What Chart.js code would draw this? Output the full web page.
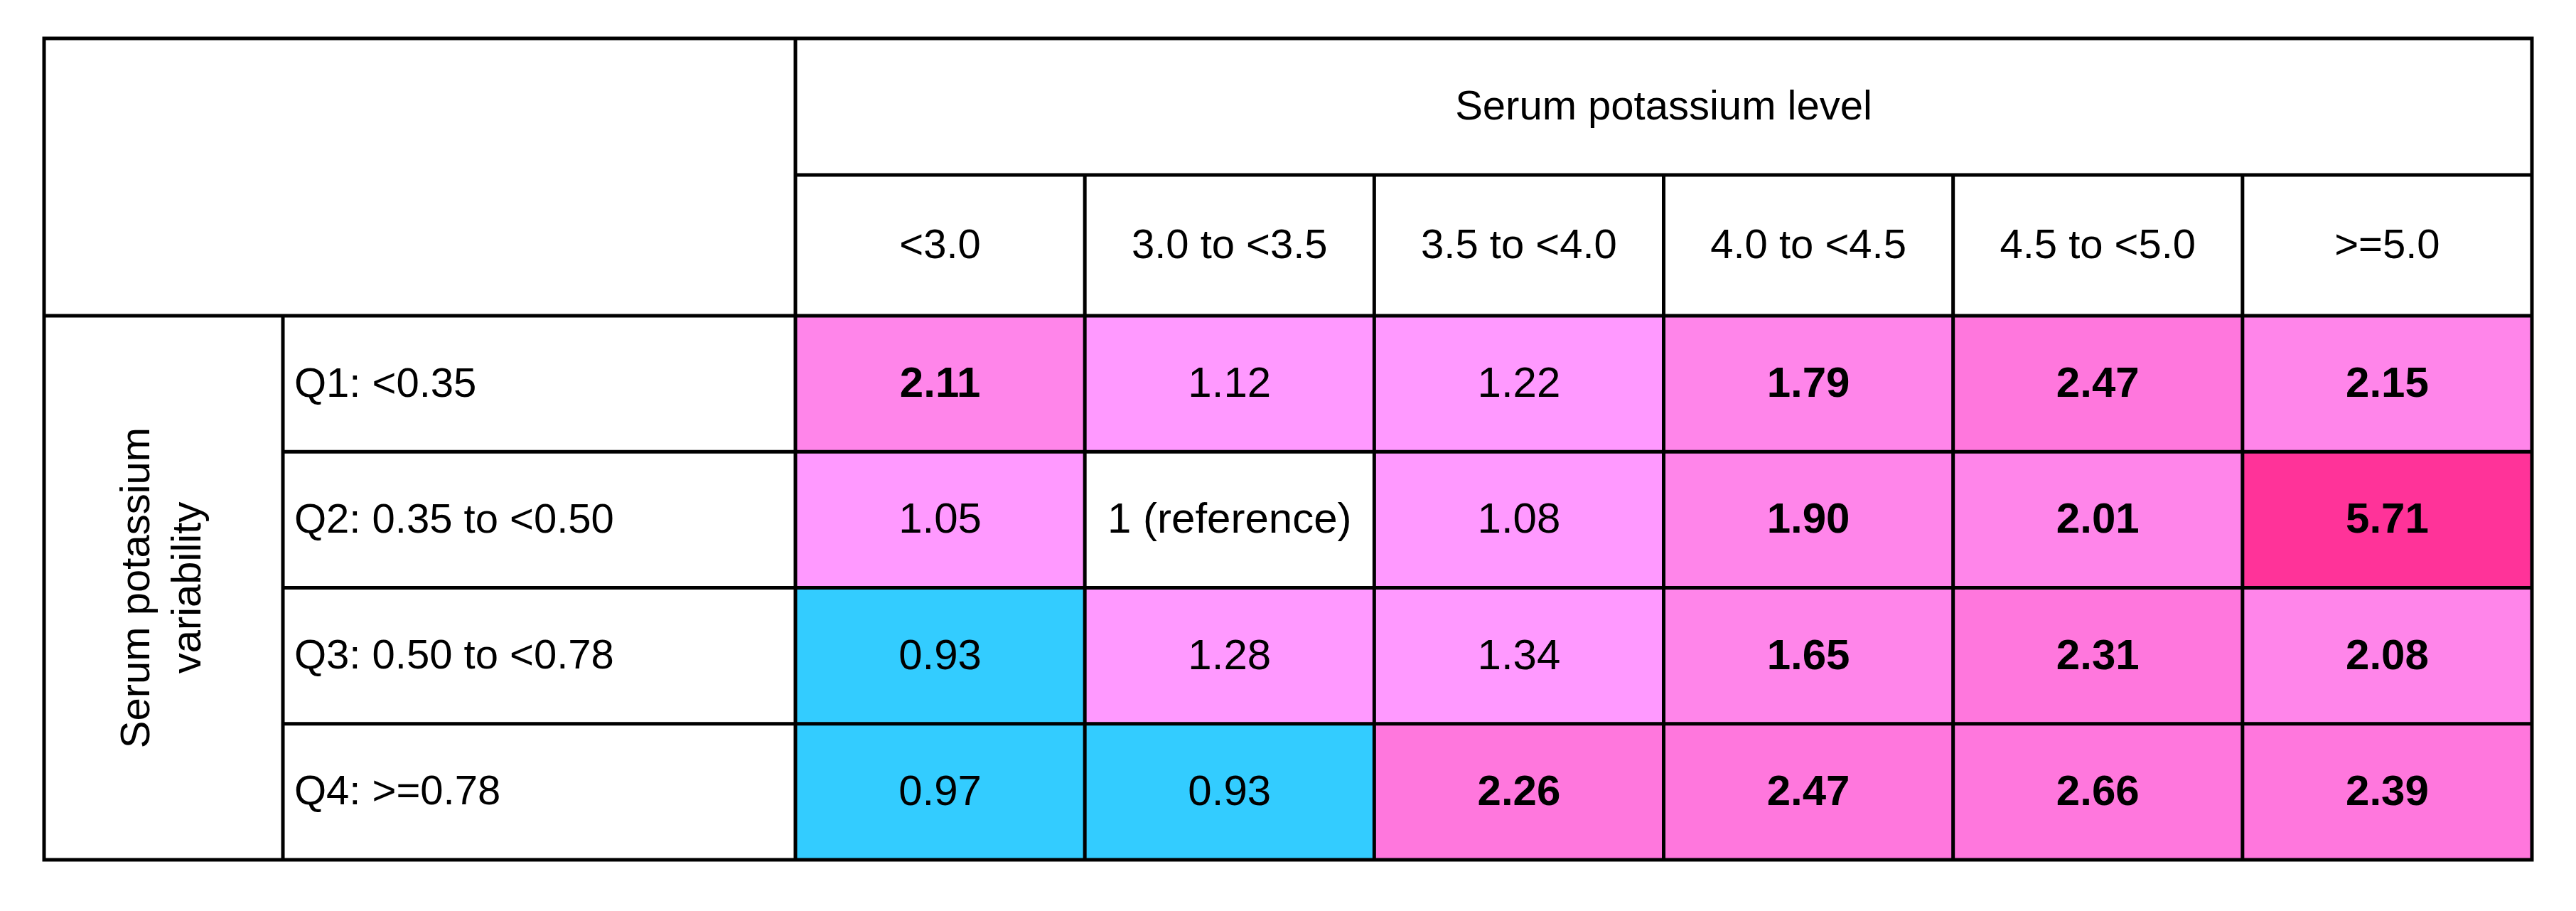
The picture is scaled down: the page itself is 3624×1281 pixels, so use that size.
<!DOCTYPE html>
<html>
<head>
<meta charset="utf-8">
<script src="https://cdn.jsdelivr.net/npm/chart.js@4.4.0/dist/chart.umd.min.js"></script>
<style>
  html, body { margin: 0; padding: 0; background: #fff; }
  #wrap { width: 3624px; height: 1281px; }
</style>
</head>
<body>
<div id="wrap"><canvas id="grid"></canvas></div>
<script>
// Níveis de potássio (colunas) e quartis de variabilidade (linhas)
const levels = ['<3.0', '3.0 to <3.5', '3.5 to <4.0', '4.0 to <4.5', '4.5 to <5.0', '>=5.0'];
const quartiles = ['Q1: <0.35', 'Q2: 0.35 to <0.50', 'Q3: 0.50 to <0.78', 'Q4: >=0.78'];
const hazard = [
  [2.11, 1.12, 1.22, 1.79, 2.47, 2.15],
  [1.05, 1.00, 1.08, 1.90, 2.01, 5.71],
  [0.93, 1.28, 1.34, 1.65, 2.31, 2.08],
  [0.97, 0.93, 2.26, 2.47, 2.66, 2.39]
];
const significant = [
  [1, 0, 0, 1, 1, 1],
  [0, 0, 0, 1, 1, 1],
  [0, 0, 0, 1, 1, 1],
  [0, 0, 1, 1, 1, 1]
];
const refCell = [1, 1];

const FONT = '"Liberation Sans", Arial, sans-serif';

function cellColor(v, r, c) {
  if (r === refCell[0] && c === refCell[1]) return '#ffffff';
  if (v < 1) return '#33ccff';
  if (v < 1.5) return '#ff99ff';
  if (v < 2.2) return '#ff85ea';
  if (v < 3) return '#ff77dd';
  return '#ff3399';
}

const points = [];
hazard.forEach((row, r) => row.forEach((v, c) => points.push({ x: c + 0.5, y: r + 0.5, v: v, r: r, c: c })));

const tablePlugin = {
  id: 'table',
  afterDatasetsDraw(chart) {
    const ctx = chart.ctx;
    const xs = chart.scales.x, ys = chart.scales.y;
    const L = 62, split = 398;
    const top = 54, mid = 246;
    const left = xs.getPixelForValue(0), right = xs.getPixelForValue(levels.length);
    const head = ys.getPixelForValue(0), bottom = ys.getPixelForValue(quartiles.length);
    ctx.save();
    ctx.textBaseline = 'middle';

    // células
    points.forEach(p => {
      const x0 = xs.getPixelForValue(p.c), x1 = xs.getPixelForValue(p.c + 1);
      const y0 = ys.getPixelForValue(p.r), y1 = ys.getPixelForValue(p.r + 1);
      ctx.fillStyle = cellColor(p.v, p.r, p.c);
      ctx.fillRect(x0, y0, x1 - x0, y1 - y0);
      ctx.fillStyle = '#000';
      ctx.textAlign = 'center';
      const isRef = p.r === refCell[0] && p.c === refCell[1];
      ctx.font = (significant[p.r][p.c] ? 'bold ' : '') + '60px ' + FONT;
      ctx.fillText(isRef ? '1 (reference)' : p.v.toFixed(2), (x0 + x1) / 2, (y0 + y1) / 2 + 2);
    });

    // cabeçalhos
    ctx.font = '58px ' + FONT;
    ctx.textAlign = 'center';
    ctx.fillText('Serum potassium level', (left + right) / 2, (top + mid) / 2 + 2);
    levels.forEach((lab, c) => {
      const x0 = xs.getPixelForValue(c), x1 = xs.getPixelForValue(c + 1);
      ctx.fillText(lab, (x0 + x1) / 2, (mid + head) / 2 + 2);
    });
    ctx.textAlign = 'left';
    quartiles.forEach((lab, r) => {
      const y0 = ys.getPixelForValue(r), y1 = ys.getPixelForValue(r + 1);
      ctx.fillText(lab, split + 16, (y0 + y1) / 2 + 2);
    });
    ctx.save();
    ctx.translate((L + split) / 2, (head + bottom) / 2);
    ctx.rotate(-Math.PI / 2);
    ctx.textAlign = 'center';
    ctx.fillText('Serum potassium', 0, -36);
    ctx.fillText('variability', 0, 36);
    ctx.restore();

    // linhas
    ctx.strokeStyle = '#000';
    ctx.lineWidth = 5;
    ctx.beginPath();
    ctx.rect(L, top, right - L, bottom - top);
    ctx.moveTo(left, top); ctx.lineTo(left, bottom);
    ctx.moveTo(left, mid); ctx.lineTo(right, mid);
    ctx.moveTo(L, head); ctx.lineTo(right, head);
    ctx.moveTo(split, head); ctx.lineTo(split, bottom);
    for (let c = 1; c < levels.length; c++) {
      const x = xs.getPixelForValue(c);
      ctx.moveTo(x, mid); ctx.lineTo(x, bottom);
    }
    for (let r = 1; r < quartiles.length; r++) {
      const y = ys.getPixelForValue(r);
      ctx.moveTo(split, y); ctx.lineTo(right, y);
    }
    ctx.stroke();
    ctx.restore();
  }
};

new Chart(document.getElementById('grid'), {
  type: 'scatter',
  data: { datasets: [{ data: points, pointRadius: 0, pointHoverRadius: 0 }] },
  options: {
    responsive: true,
    maintainAspectRatio: false,
    animation: false,
    layout: { padding: { left: 1119, right: 62, top: 444, bottom: 72 } },
    plugins: { legend: { display: false }, tooltip: { enabled: false } },
    scales: {
      x: { type: 'linear', min: 0, max: levels.length, display: false },
      y: { type: 'linear', min: 0, max: quartiles.length, reverse: true, display: false }
    }
  },
  plugins: [tablePlugin]
});
</script>
</body>
</html>
